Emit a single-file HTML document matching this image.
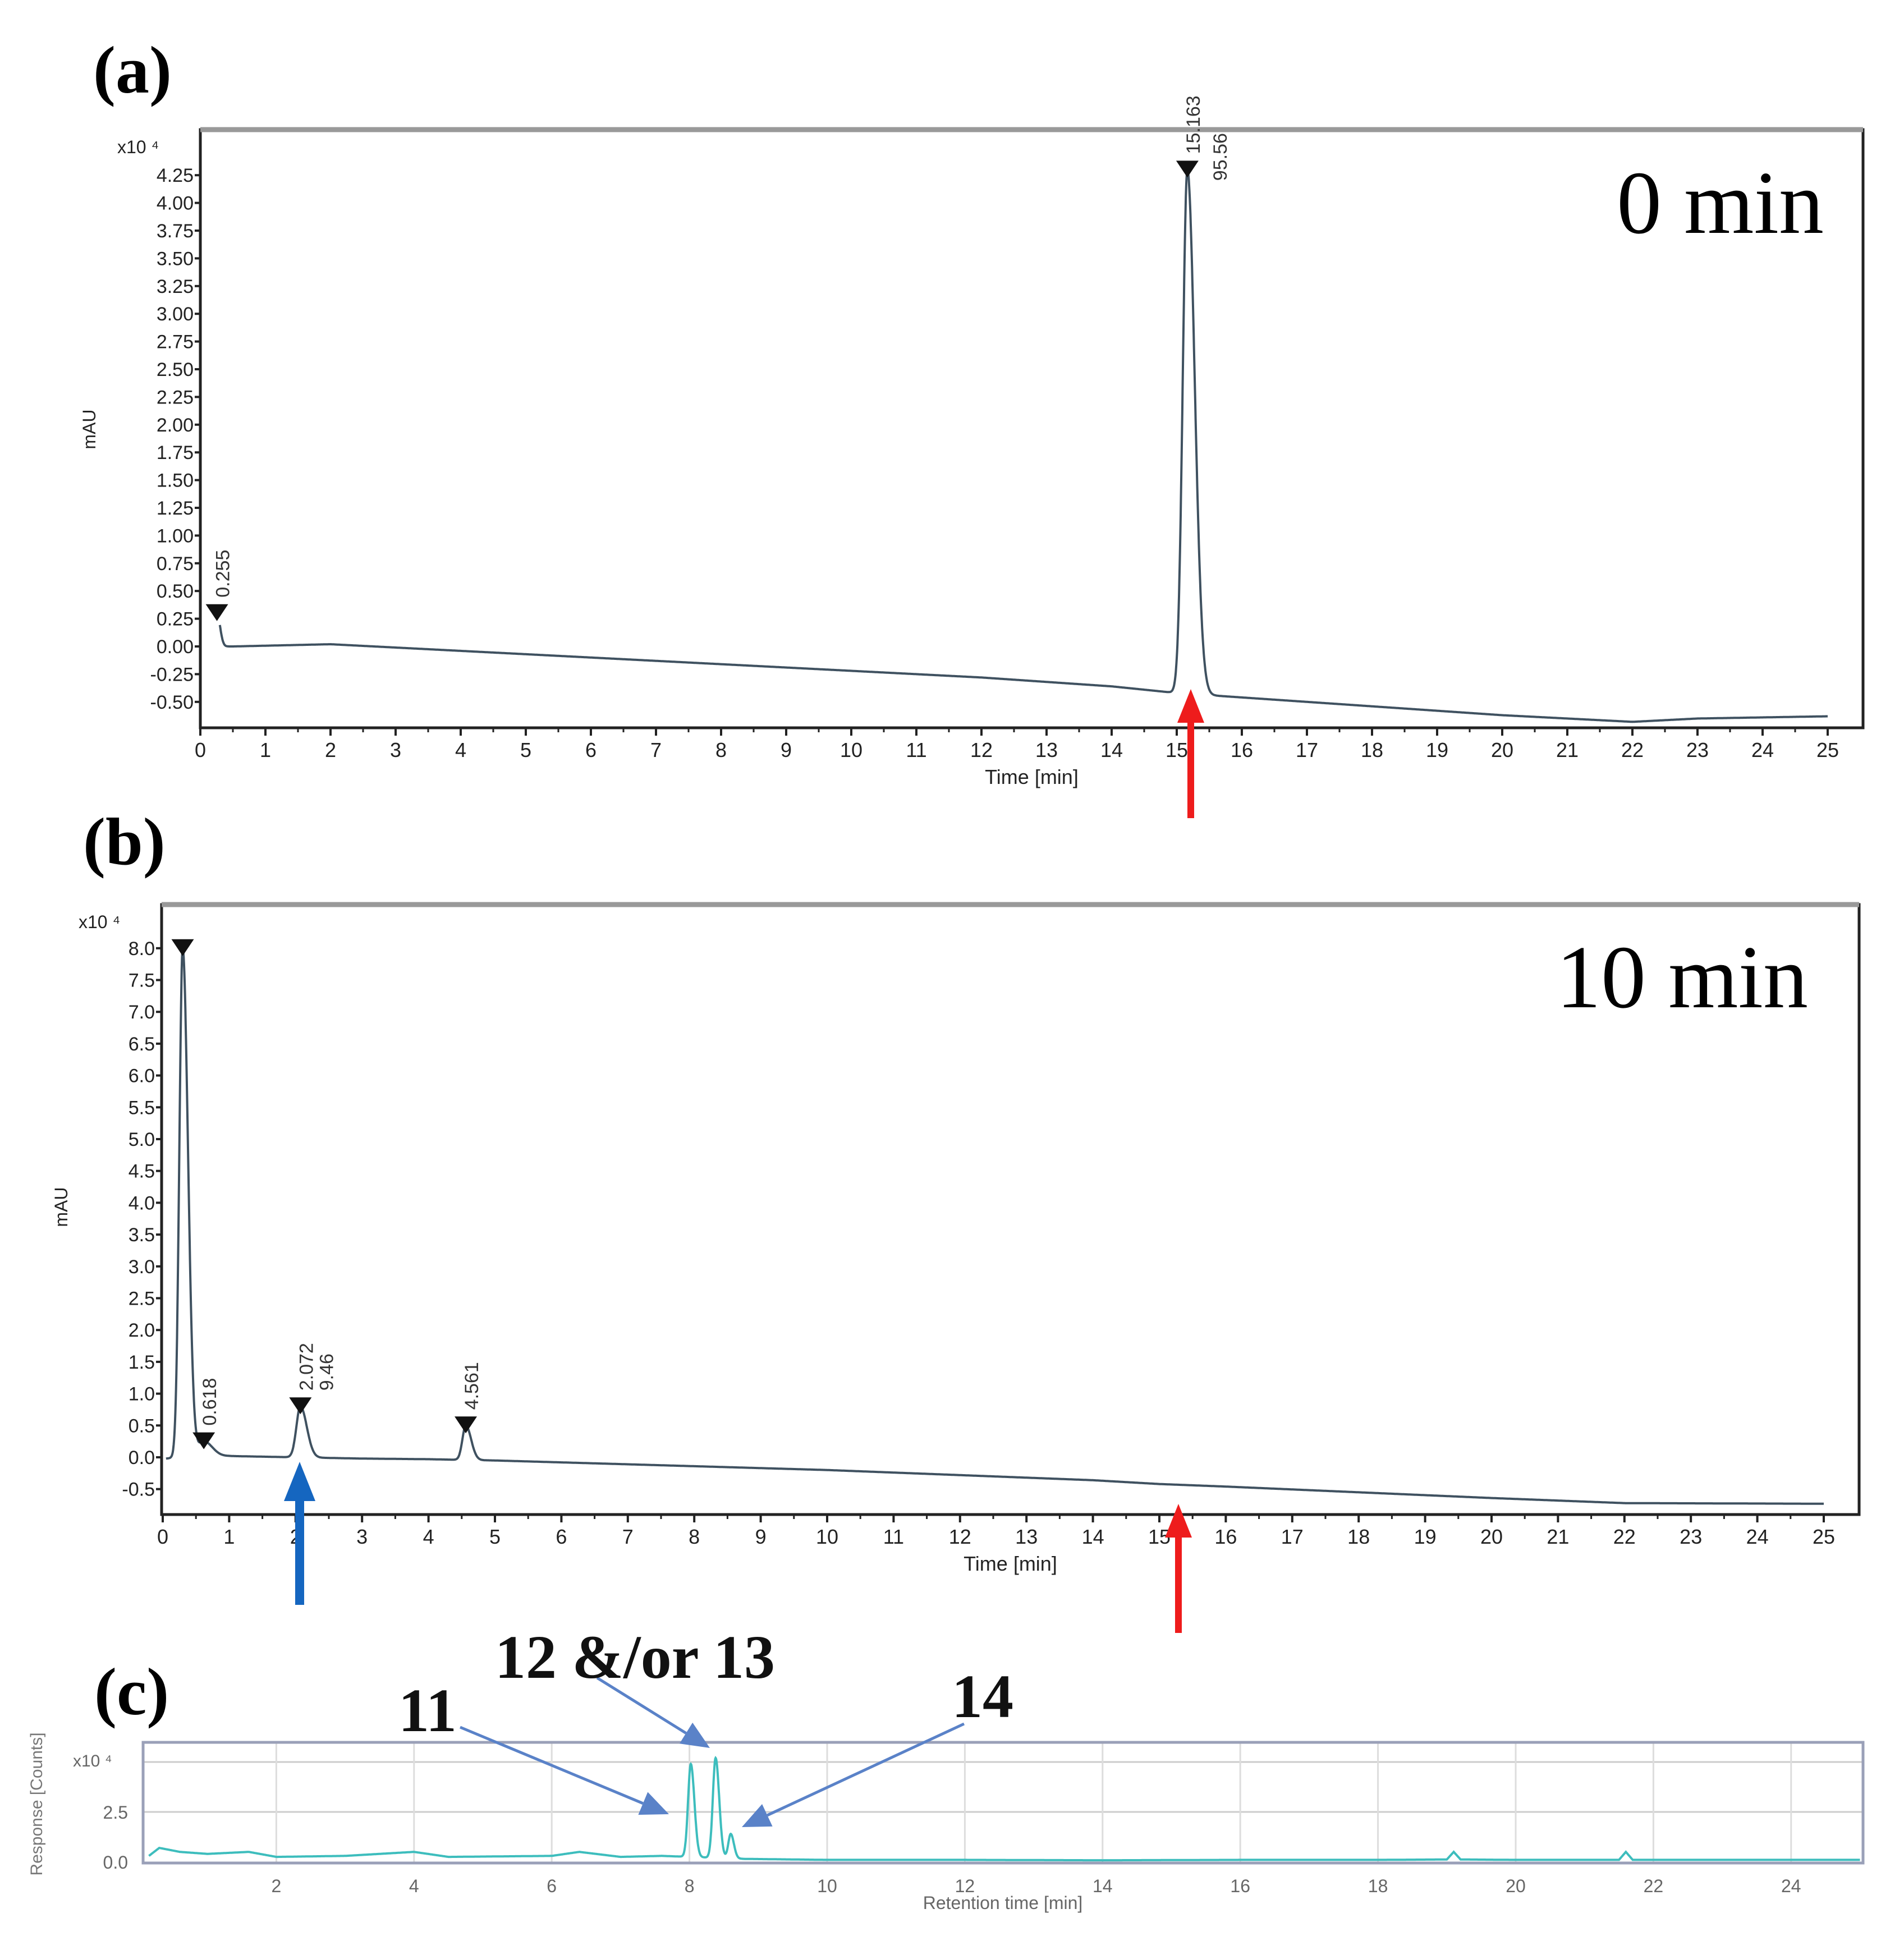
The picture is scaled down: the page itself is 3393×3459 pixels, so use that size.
<!DOCTYPE html>
<html><head><meta charset="utf-8"><style>
body{margin:0;background:#fff}
svg{display:block}
text{font-family:"Liberation Sans",sans-serif}
.ser{font-family:"Liberation Serif",serif}
</style></head><body>
<svg id="fig" width="3393" height="3459" viewBox="0 0 3393 3459" xmlns="http://www.w3.org/2000/svg">
<rect width="3393" height="3459" fill="#fff"/>
<text class="ser" x="166" y="165" font-size="120" font-weight="bold">(a)</text>
<text class="ser" x="148" y="1540" font-size="120" font-weight="bold">(b)</text>
<text class="ser" x="168" y="3055" font-size="120" font-weight="bold">(c)</text>
<text class="ser" x="3250" y="415" font-size="160" text-anchor="end">0 min</text>
<text class="ser" x="3222" y="1795" font-size="160" text-anchor="end">10 min</text>
<g id="ga"></g>
<g id="gb"></g>
<g id="gc"></g>
<g id="ann"></g>
</svg>
<script>
// ---- data ----
const xTicksAB = [0,1,2,3,4,5,6,7,8,9,10,11,12,13,14,15,16,17,18,19,20,21,22,23,24,25];
const yTicksA = [4.25,4.00,3.75,3.50,3.25,3.00,2.75,2.50,2.25,2.00,1.75,1.50,1.25,1.00,0.75,0.50,0.25,0.00,-0.25,-0.50];
const baseTA = [0.3,0.5,2,4,6,8,10,12,14,15,16,17,18,19,20,21,22,23,24,25];
const baseVA = [0,0,0.02,-0.04,-0.1,-0.16,-0.22,-0.28,-0.36,-0.42,-0.46,-0.5,-0.54,-0.58,-0.62,-0.65,-0.68,-0.65,-0.64,-0.63];
const peakTA = [0.255,15.163];
const peakHA = [0.3,4.3];
const peakWA = [0.03,0.07];
const peakLabA = ["0.255","15.163"];

const yTicksB = [8.0,7.5,7.0,6.5,6.0,5.5,5.0,4.5,4.0,3.5,3.0,2.5,2.0,1.5,1.0,0.5,0.0,-0.5];
const baseTB = [0.05,0.25,1,2,3,4,5,6,8,10,12,14,15,16,18,20,22,25];
const baseVB = [-0.02,0,0.02,0,-0.02,-0.03,-0.05,-0.08,-0.14,-0.2,-0.28,-0.36,-0.42,-0.46,-0.55,-0.64,-0.72,-0.73];
const peakTB = [0.3,0.618,2.072,4.561];
const peakHB = [8.0,0.25,0.8,0.5];
const peakWB = [0.05,0.08,0.06,0.05];
const peakLabB = ["","0.618","2.072","4.561"];

const xTicksC = [2,4,6,8,10,12,14,16,18,20,22,24];
const yTicksC = [0.0,2.5];
const baseTC = [0.15,0.3,0.6,1,1.6,2,3,4,4.5,6,6.4,7,7.6,8.8,10,12,14,16,18,19,19.1,19.2,20,21.5,21.6,21.7,23,25];
const baseVC = [0.3,0.7,0.5,0.4,0.5,0.25,0.3,0.5,0.25,0.3,0.5,0.25,0.3,0.15,0.1,0.1,0.08,0.1,0.1,0.12,0.5,0.12,0.1,0.1,0.5,0.1,0.1,0.1];
const peakTC = [8.02,8.38,8.6];
const peakHC = [4.9,5.2,1.4];
const peakWC = [0.04,0.04,0.035];

// ---- helpers ----
const NS="http://www.w3.org/2000/svg";
function mk(parent,tag,attrs,txt){const e=document.createElementNS(NS,tag);for(const k in attrs)e.setAttribute(k,attrs[k]);if(txt!==undefined)e.textContent=txt;parent.appendChild(e);return e;}
function interp(ts,vs,t){if(t<=ts[0])return vs[0];for(let i=1;i<ts.length;i++){if(t<=ts[i]){const f=(t-ts[i-1])/(ts[i]-ts[i-1]);return vs[i-1]+f*(vs[i]-vs[i-1]);}}return vs[vs.length-1];}
function signal(t,bt,bv,pt,ph,pw,tail){let v=interp(bt,bv,t);for(let i=0;i<pt.length;i++){const d=t-pt[i];const w=d>0?pw[i]*tail:pw[i];v+=(ph[i]-interp(bt,bv,pt[i]))*Math.exp(-d*d/(2*w*w));}return v;}

function drawHPLC(g,o){
  const x=t=>o.x0+o.px*t, y=v=>o.y0-v/o.step*o.py;
  const fr=mk(g,'rect',{x:o.L,y:o.T,width:o.R-o.L,height:o.B-o.T,fill:'none',stroke:'#222','stroke-width':5});
  
  
  mk(g,'line',{x1:o.L,y1:o.T,x2:o.R,y2:o.T,stroke:'#999','stroke-width':9});
  xTicksAB.forEach(t=>{
    mk(g,'line',{x1:x(t),y1:o.B,x2:x(t),y2:o.B+14,stroke:'#222','stroke-width':4});
    const tx=mk(g,'text',{x:x(t),y:o.B+52,'font-size':36,'text-anchor':'middle',fill:'#222'},String(t));
    
    
  });
  for(let t=0.5;t<25;t+=1)mk(g,'line',{x1:x(t),y1:o.B,x2:x(t),y2:o.B+8,stroke:'#222','stroke-width':3});
  const xt=mk(g,'text',{x:(o.L+o.R)/2,y:o.B+100,'font-size':36,'text-anchor':'middle',fill:'#222'},'Time [min]');
  
  
  o.yt.forEach(v=>{
    mk(g,'line',{x1:o.L-10,y1:y(v),x2:o.L,y2:y(v),stroke:'#222','stroke-width':4});
    const ty=mk(g,'text',{x:o.L-12,y:y(v)+12,'font-size':34,'text-anchor':'end',fill:'#222'},o.fmt(v));
    
    
  });
  const ex=mk(g,'text',{x:o.L-148,y:o.T+42,'font-size':32,fill:'#222'},'x10 ⁴');
  
  
  const yt=mk(g,'text',{x:o.yx,y:o.yy,'font-size':32,'text-anchor':'middle',fill:'#222',transform:`rotate(-90 ${o.yx} ${o.yy})`},'mAU');
  
  
  let d='';
  for(let t=o.t0;t<=25;t+=0.005){const v=signal(t,o.bt,o.bv,o.pt,o.ph,o.pw,1.6);d+=(d?'L':'M')+x(t).toFixed(1)+' '+y(v).toFixed(1);}
  const p=mk(g,'path',{d:d,fill:'none',stroke:'#3f5160','stroke-width':4});
  
  
  o.pt.forEach((t,i)=>{
    const px=x(t),py=y(o.ph[i]);
    const m=mk(g,'path',{d:`M${px-20} ${py-16}L${px+20} ${py-16}L${px} ${py+14}Z`,fill:'#111'});
    
    
    if(o.lab[i]){const lx=px+22,ly=py-28;
      const lt=mk(g,'text',{x:lx,y:ly,'font-size':34,fill:'#333',transform:`rotate(-90 ${lx} ${ly})`},o.lab[i]);
      
      }
  });
  return {x,y};
}

const A=drawHPLC(document.getElementById('ga'),{L:357,R:3320,T:231,B:1297,x0:357,px:116.0,y0:1152,py:49.4,step:0.25,yt:yTicksA,fmt:v=>v.toFixed(2),bt:baseTA,bv:baseVA,pt:peakTA,ph:peakHA,pw:peakWA,lab:peakLabA,t0:0.3,yx:170,yy:765});
const ga=document.getElementById('ga');
{const lx=A.x(15.163)+70,ly=A.y(4.25)+10;
 const t=mk(ga,'text',{x:lx,y:ly,'font-size':34,fill:'#333',transform:`rotate(-90 ${lx} ${ly})`},'95.56');
 
 }
const B=drawHPLC(document.getElementById('gb'),{L:288,R:3313,T:1612,B:2699,x0:290,px:118.4,y0:2597,py:56.7,step:0.5,yt:yTicksB,fmt:v=>v.toFixed(1),bt:baseTB,bv:baseVB,pt:peakTB,ph:peakHB,pw:peakWB,lab:peakLabB,t0:0.05,yx:120,yy:2151});
const gb=document.getElementById('gb');
{const lx=B.x(2.072)+58,ly=B.y(0.8)-28;
 const t=mk(gb,'text',{x:lx,y:ly,'font-size':34,fill:'#333',transform:`rotate(-90 ${lx} ${ly})`},'9.46');
 
 }

// panel C
const gc=document.getElementById('gc');
const xC=t=>247+122.7*t, yC=v=>3318-v/2.5*89;
[2.5,5.0].forEach(v=>mk(gc,'line',{x1:255,y1:yC(v),x2:3320,y2:yC(v),stroke:'#ccc','stroke-width':3}));
xTicksC.forEach(t=>{
  mk(gc,'line',{x1:xC(t),y1:3105,x2:xC(t),y2:3320,stroke:'#ddd','stroke-width':3});
  const tx=mk(gc,'text',{x:xC(t),y:3372,'font-size':32,'text-anchor':'middle',fill:'#666'},String(t));
  
  
});
yTicksC.forEach(v=>{
  const ty=mk(gc,'text',{x:228,y:yC(v)+12,'font-size':32,'text-anchor':'end',fill:'#666'},v.toFixed(1));
  
  
});
{const t=mk(gc,'text',{x:130,y:3148,'font-size':30,fill:'#666'},'x10 ⁴');
 
 }
{const t=mk(gc,'rect',{x:255,y:3105,width:3065,height:215,fill:'none',stroke:'#9aa0b8','stroke-width':5});
 
 }
{const t=mk(gc,'text',{x:1787,y:3402,'font-size':32,'text-anchor':'middle',fill:'#666'},'Retention time [min]');
 
 }
{const t=mk(gc,'text',{x:75,y:3215,'font-size':30,'text-anchor':'middle',fill:'#777',transform:'rotate(-90 75 3215)'},'Response [Counts]');
 
 }
{let d='';for(let t=0.15;t<=25;t+=0.005){const v=signal(t,baseTC,baseVC,peakTC,peakHC,peakWC,1.3);d+=(d?'L':'M')+xC(t).toFixed(1)+' '+yC(v).toFixed(1);}
 const p=mk(gc,'path',{d:d,fill:'none',stroke:'#3dbdbd','stroke-width':4});
 
 }

// annotations
const an=document.getElementById('ann');
function arrow(x1,y1,x2,y2,col,w,hl,hw,name){
  const dx=x2-x1,dy=y2-y1,L=Math.hypot(dx,dy),ux=dx/L,uy=dy/L;
  const bx=x2-ux*hl,by=y2-uy*hl;
  const g=mk(an,'g',{});
  
  
  mk(g,'line',{x1:x1,y1:y1,x2:bx,y2:by,stroke:col,'stroke-width':w});
  mk(g,'path',{d:`M${x2} ${y2}L${bx-uy*hw} ${by+ux*hw}L${bx+uy*hw} ${by-ux*hw}Z`,fill:col});
}
arrow(2122,1458,2122,1228,'#ee1c1c',12,60,24,'red-arrow-a');
arrow(2100,2910,2100,2680,'#ee1c1c',12,60,24,'red-arrow-b');
arrow(534,2860,534,2605,'#1566c0',16,70,28,'blue-arrow-b');
arrow(820,3078,1192,3233,'#5a82c8',5,50,22,'arrow-11');
arrow(1064,2990,1265,3115,'#5a82c8',5,50,22,'arrow-12-13');
arrow(1718,3072,1322,3256,'#5a82c8',5,50,22,'arrow-14');
[['11',710,3085,'label-11'],['12 &/or 13',882,2990,'label-12-13'],['14',1696,3060,'label-14']].forEach(a=>{
  const t=mk(an,'text',{x:a[1],y:a[2],'font-size':110,'font-weight':'bold',class:'ser',fill:'#111'},a[0]);
  
  
});
</script>
</body></html>
